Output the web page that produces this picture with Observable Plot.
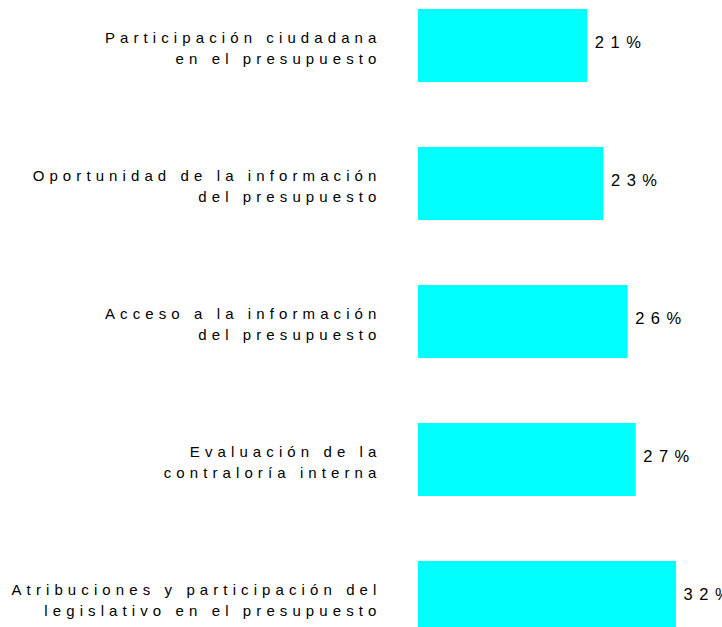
<!DOCTYPE html>
<html>
<head>
<meta charset="utf-8">
<script src="https://cdn.jsdelivr.net/npm/d3@7"></script>
<script src="https://cdn.jsdelivr.net/npm/@observablehq/plot@0.6"></script>
<style>
  html, body { margin: 0; padding: 0; background: #fff; overflow: hidden; }
  #chart svg { display: block; }
  #chart .lbl, #chart .lbl text, #chart .lbl tspan { letter-spacing: 5.1px; }
  #chart .val, #chart .val text { letter-spacing: 6.5px; }
</style>
</head>
<body>
<div id="chart"></div>
<script>
const categories = [
  "Participación ciudadana\nen el presupuesto",
  "Oportunidad de la información\ndel presupuesto",
  "Acceso a la información\ndel presupuesto",
  "Evaluación de la\ncontraloría interna",
  "Atribuciones y participación del\nlegislativo en el presupuesto"
];
const values = [21, 23, 26, 27, 32];

const data = categories.map((c, i) => ({cat: c, value: values[i]}));

const chart = Plot.plot({
  width: 722,
  height: 643,
  marginLeft: 418,
  marginRight: 0,
  marginTop: 0,
  marginBottom: 0,
  x: {domain: [0, 37.7], axis: null},
  y: {domain: categories, paddingInner: 0.472, paddingOuter: 0.058, axis: null},
  style: {fontFamily: "'Liberation Sans', Arial, sans-serif", background: "white", color: "#000"},
  marks: [
    Plot.barX(data, {x: "value", y: "cat", fill: "#00FFFF"}),
    Plot.text(data, {x: "value", y: "cat", text: d => d.value + "%", textAnchor: "start", dx: 7, dy: -3, fontSize: 16.5, fill: "#000", className: "val"}),
    Plot.text(data, {x: 0, y: "cat", text: "cat", textAnchor: "end", dx: -37, dy: 1, lineHeight: 1.4, fontSize: 15, fill: "#000", className: "lbl"})
  ]
});
document.getElementById("chart").append(chart);
</script>
</body>
</html>
